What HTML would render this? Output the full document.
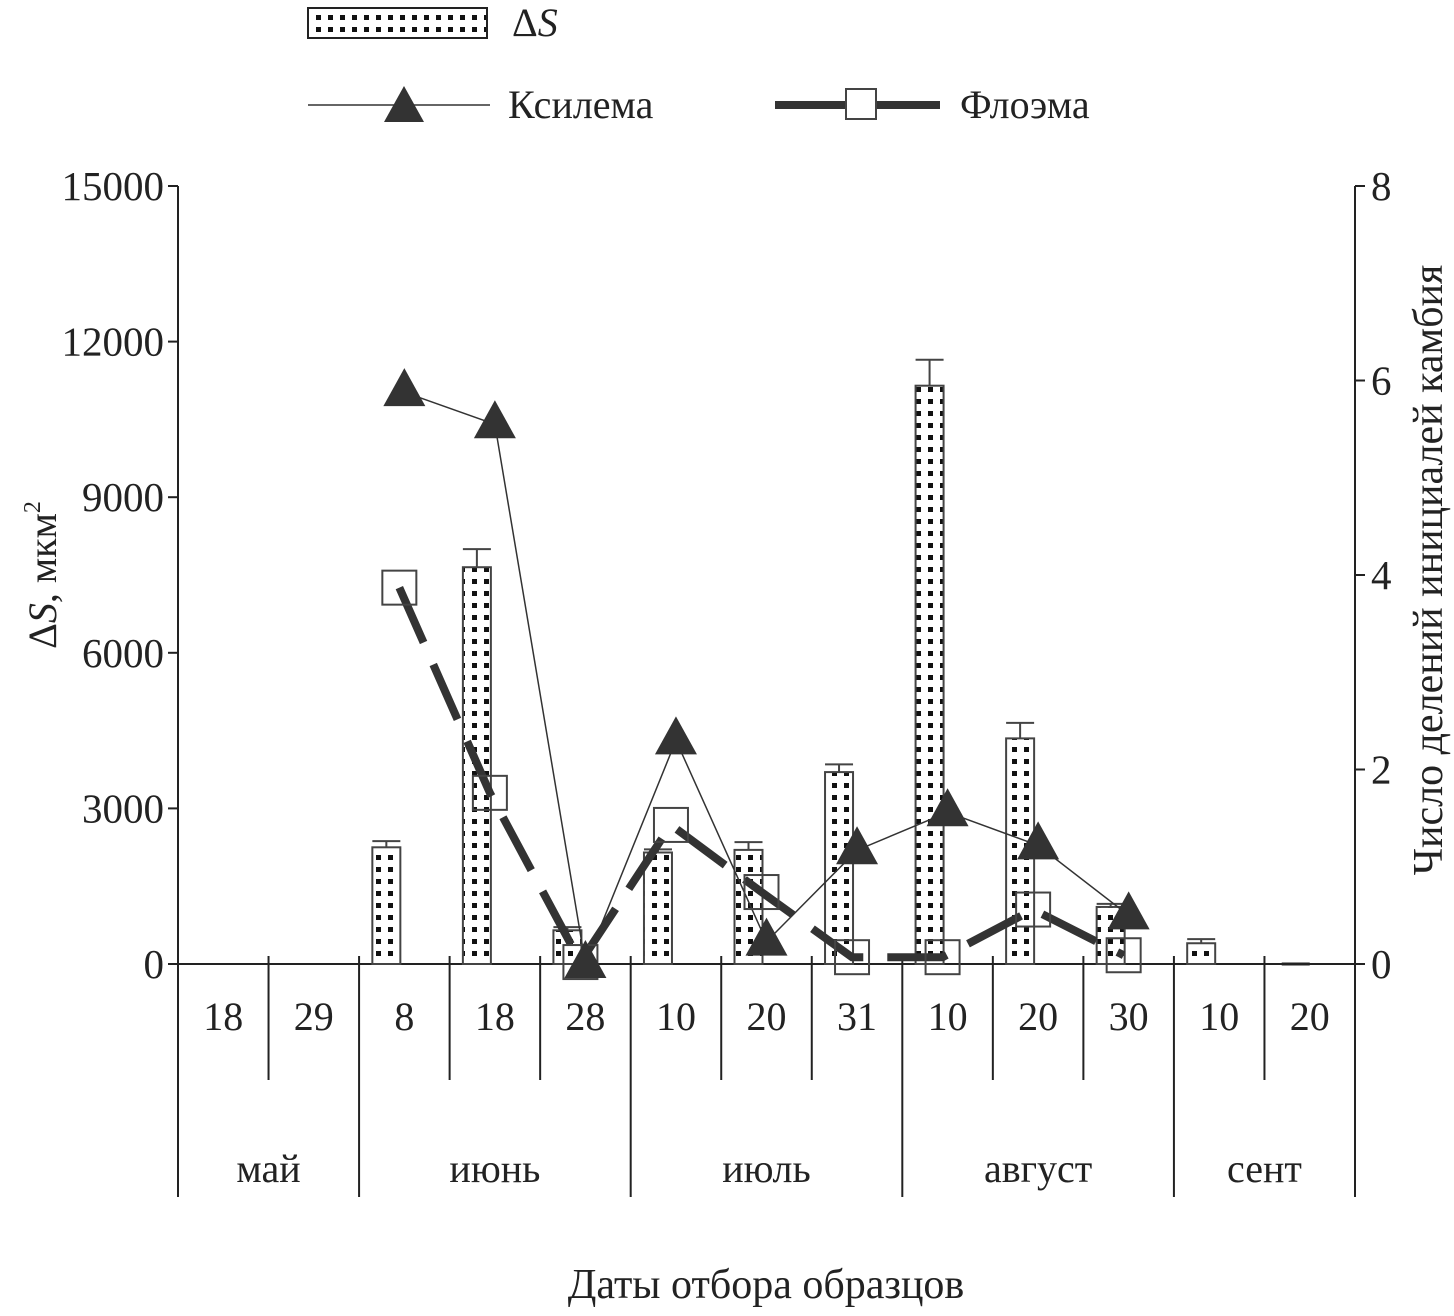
<!DOCTYPE html>
<html><head><meta charset="utf-8"><style>
body{margin:0;background:#fff}
text{font-family:"Liberation Serif",serif;fill:#222}
</style></head><body>
<svg id="chart" width="1454" height="1311" xmlns="http://www.w3.org/2000/svg">
<defs>
<pattern id="dots" width="12" height="12" patternUnits="userSpaceOnUse" x="1" y="0">
<rect width="12" height="12" fill="#fff"/><rect x="3" y="3" width="5" height="5" fill="#111"/>
</pattern>
</defs>
<g id="legend">
<rect x="308" y="8" width="179" height="30" fill="url(#dots)" stroke="#222" stroke-width="2"/>
<text x="512" y="36" font-size="40">Δ<tspan font-style="italic">S</tspan></text>
<line x1="308" y1="105" x2="490" y2="105" stroke="#333" stroke-width="1.5"/>
<polygon points="404,86 384,122 424,122" fill="#333"/>
<text x="508" y="118" font-size="40">Ксилема</text>
<line x1="775" y1="105" x2="940" y2="105" stroke="#333" stroke-width="8"/>
<rect x="846" y="89" width="30" height="30" fill="#fff" stroke="#444" stroke-width="2"/>
<text x="960" y="118" font-size="40">Флоэма</text>
</g>
<g id="axes"></g>
<g id="bars"></g>
<g id="lines"></g>
<text transform="translate(56,575) rotate(-90)" text-anchor="middle" font-size="40">Δ<tspan font-style="italic">S</tspan>, мкм<tspan dy="-16" font-size="24">2</tspan></text>
<text transform="translate(1442,570) rotate(-90)" text-anchor="middle" font-size="42">Число делений инициалей камбия</text>
<text x="766" y="1298" text-anchor="middle" font-size="42">Даты отбора образцов</text>
</svg>
<script>
const days=["18","29","8","18","28","10","20","31","10","20","30","10","20"];
const months=["май","июнь","июль","август","сент"];
const monthSpans=[2,3,3,3,2];
const dsValues=[0,0,2250,7650,650,2150,2200,3700,11150,4350,1100,400,0];
const dsErrors=[0,0,120,350,60,60,150,150,500,300,60,80,0];
const xylem=[null,null,5.88,5.55,0,2.3,0.23,1.17,1.56,1.22,0.5,null,null];
const phloem=[null,null,3.87,1.76,0.02,1.43,0.74,0.07,0.07,0.56,0.09,null,null];
const leftTicks=[0,3000,6000,9000,12000,15000];
const rightTicks=[0,2,4,6,8];
const NS="http://www.w3.org/2000/svg";
const X0=178,X1=1355,Y0=964,Y1=186;
const cw=(X1-X0)/days.length;
const xc=i=>X0+cw*(i+0.5);
const yL=v=>Y0-(v/15000)*(Y0-Y1);
const yR=v=>Y0-(v/8)*(Y0-Y1);
function mk(tag,attrs,parent,txt){const e=document.createElementNS(NS,tag);for(const k in attrs)e.setAttribute(k,attrs[k]);if(txt!==undefined)e.textContent=txt;document.getElementById(parent).appendChild(e);return e;}
let e;
e=mk('line',{x1:X0,y1:Y1,x2:X0,y2:1197,stroke:'#222','stroke-width':2},'axes');

e=mk('line',{x1:X1,y1:Y1,x2:X1,y2:1197,stroke:'#222','stroke-width':2},'axes');

e=mk('line',{x1:X0,y1:Y0,x2:X1,y2:Y0,stroke:'#222','stroke-width':2},'axes');

leftTicks.forEach(t=>{
 e=mk('line',{x1:X0-10,y1:yL(t),x2:X0,y2:yL(t),stroke:'#222','stroke-width':2},'axes');
 
 e=mk('text',{x:X0-14,y:yL(t)+14,'text-anchor':'end','font-size':41},'axes',String(t));
 
});
rightTicks.forEach(t=>{
 e=mk('line',{x1:X1,y1:yR(t),x2:X1+10,y2:yR(t),stroke:'#222','stroke-width':2},'axes');
 
 e=mk('text',{x:X1+16,y:yR(t)+14,'font-size':41},'axes',String(t));
 
});
let monthBound=new Set();let acc=0;monthSpans.forEach(s=>{acc+=s;monthBound.add(acc);});
for(let i=1;i<days.length;i++){
 const x=X0+cw*i;
 e=mk('line',{x1:x,y1:Y0-8,x2:x,y2:monthBound.has(i)?1197:1080,stroke:'#222','stroke-width':2},'axes');
 
}
days.forEach((d,i)=>{
 e=mk('text',{x:xc(i),y:1030,'text-anchor':'middle','font-size':40},'axes',d);
 
});
acc=0;months.forEach((m,k)=>{
 const cx=X0+cw*(acc+monthSpans[k]/2);acc+=monthSpans[k];
 e=mk('text',{x:cx,y:1182,'text-anchor':'middle','font-size':40},'axes',m);
 
});
dsValues.forEach((v,i)=>{
 if(v<=0)return;
 const x=xc(i)-32,w=28;
 e=mk('rect',{x:x,y:yL(v),width:w,height:Y0-yL(v),fill:'url(#dots)',stroke:'#444','stroke-width':2},'bars');
 
 const ye=yL(v+dsErrors[i]);
 e=mk('path',{d:`M${x+w/2},${yL(v)} V${ye} M${x},${ye} H${x+w}`,stroke:'#444','stroke-width':2,fill:'none'},'bars');
 
});
e=mk('line',{x1:xc(12)-28,y1:Y0,x2:xc(12),y2:Y0,stroke:'#222','stroke-width':3},'bars');

function pts(arr,f,dx){return arr.map((v,i)=>v===null?null:[xc(i)+dx,f(v)]).filter(p=>p);}
const xp=pts(xylem,yR,0),pp=pts(phloem,yR,-5);
e=mk('polyline',{points:pp.map(p=>p.join(',')).join(' '),fill:'none',stroke:'#333','stroke-width':8,'stroke-dasharray':'60 24'},'lines');

e=mk('polyline',{points:xp.map(p=>p.join(',')).join(' '),fill:'none',stroke:'#333','stroke-width':1.5},'lines');

pp.forEach(p=>{
 e=mk('rect',{x:p[0]-17,y:p[1]-17,width:34,height:34,fill:'none',stroke:'#444','stroke-width':2},'lines');
 
});
xp.forEach(p=>{
 e=mk('polygon',{points:`${p[0]},${p[1]-24} ${p[0]-21},${p[1]+14} ${p[0]+21},${p[1]+14}`,fill:'#333'},'lines');
 
});
</script>
</body></html>
